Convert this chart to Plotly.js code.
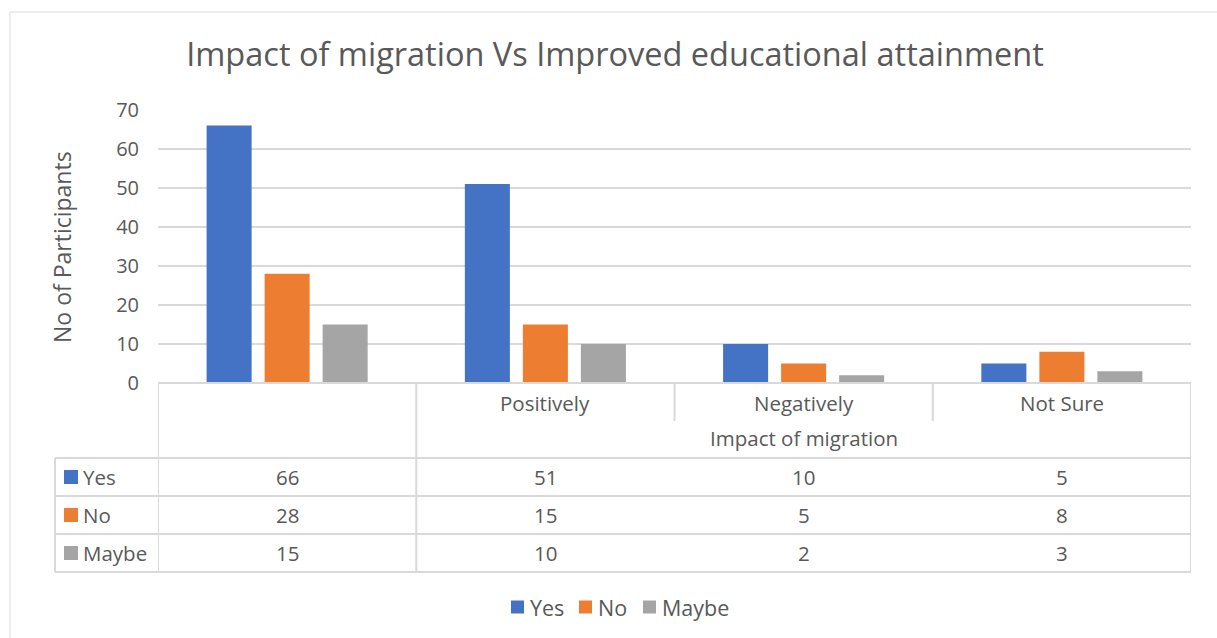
<!DOCTYPE html>
<html>
<head>
<meta charset="utf-8">
<script src="https://cdn.plot.ly/plotly-3.0.1.min.js"></script>
<style>html,body{margin:0;padding:0;background:#fff;}#chart{width:1217px;height:638px;}</style>
</head>
<body>
<div id="chart"></div>
<script>
// ---- data ----
const categories = ["", "Positively", "Negatively", "Not Sure"];
const seriesNames = ["Yes", "No", "Maybe"];
const yesValues = [66, 51, 10, 5];
const noValues = [28, 15, 5, 8];
const maybeValues = [15, 10, 2, 3];
const yTickValues = [0, 10, 20, 30, 40, 50, 60, 70];
const chartTitle = "Impact of migration Vs Improved educational attainment";
const xAxisTitle = "Impact of migration";
const yAxisTitle = "No of Participants";

// ---- styles ----
const colors = ["#4472C4", "#ED7D31", "#A5A5A5"];
const textColor = "#595959";
const lineColor = "#D9D9D9";
const FONT = "'Open Sans', 'Noto Sans', sans-serif";
const FS = 20.5;

const W = 1217, H = 638;
const L = 158, R = 1191, T = 110, B = 383;
const pw = R - L, ph = B - T;
const px = v => (v - L) / pw;          // pixel x -> paper
const py = v => (B - v) / ph;          // pixel y -> paper

const allSeries = [yesValues, noValues, maybeValues];
const xIdx = categories.map((c, i) => i);

const traces = allSeries.map((vals, s) => ({
  type: "bar",
  name: seriesNames[s],
  x: xIdx,
  y: vals,
  marker: {color: colors[s], line: {width: 0}},
  hoverinfo: "skip"
}));

const shapes = [];
const annotations = [];
const ln = {color: lineColor, width: 2};

// outer chart border
shapes.push({type: "rect", xref: "paper", yref: "paper", x0: px(10), x1: px(1240), y0: py(660), y1: py(12),
  line: {color: "#D9D9D9", width: 1}, fillcolor: "rgba(0,0,0,0)", layer: "below"});

// table horizontal lines
const rowLinesPx = [458, 496, 534, 572];
shapes.push({type: "line", xref: "paper", yref: "paper", x0: 0, x1: 1, y0: 0, y1: 0, line: ln});
rowLinesPx.forEach(p => shapes.push({type: "line", xref: "paper", yref: "paper", x0: px(55), x1: 1, y0: py(p), y1: py(p), line: ln}));
// table vertical lines (column boundaries in data coords)
const n = categories.length;
for (let b = 0; b <= n; b++) {
  const xb = b - 0.5;
  const full = (b === 0 || b === 1 || b === n);
  shapes.push({type: "line", xref: "x", yref: "paper", x0: xb, x1: xb, y0: full ? py(572) : py(421), y1: 0, line: ln});
}
// left column outer edge
shapes.push({type: "line", xref: "paper", yref: "paper", x0: px(55), x1: px(55), y0: py(572), y1: py(458), line: ln});

// category labels
categories.forEach((c, i) => {
  if (c) annotations.push({xref: "x", yref: "paper", x: i, y: py(403), text: c, showarrow: false,
    xanchor: "center", yanchor: "middle", font: {family: FONT, size: FS, color: textColor}});
});
// axis title in the merged header cell
annotations.push({xref: "x", yref: "paper", x: n / 2, y: py(438), text: xAxisTitle, showarrow: false,
  xanchor: "center", yanchor: "middle", font: {family: FONT, size: FS, color: textColor}});

// table values and row labels
const rowCentersPx = [477, 515, 553];
allSeries.forEach((vals, s) => {
  const yc = py(rowCentersPx[s]);
  vals.forEach((v, i) => annotations.push({xref: "x", yref: "paper", x: i, y: yc, text: String(v), showarrow: false,
    xanchor: "center", yanchor: "middle", font: {family: FONT, size: FS, color: textColor}}));
  shapes.push({type: "rect", xref: "paper", yref: "paper", x0: px(64), x1: px(78), y0: py(rowCentersPx[s] + 7), y1: py(rowCentersPx[s] - 7),
    fillcolor: colors[s], line: {width: 0}});
  annotations.push({xref: "paper", yref: "paper", x: px(81), y: yc, text: seriesNames[s], showarrow: false,
    xanchor: "left", yanchor: "middle", font: {family: FONT, size: FS, color: textColor}});
});

// bottom legend (drawn manually to match spacing)
const legendSquareX = [511, 579, 643];
seriesNames.forEach((nm, s) => {
  shapes.push({type: "rect", xref: "paper", yref: "paper", x0: px(legendSquareX[s]), x1: px(legendSquareX[s] + 13),
    y0: py(613.5), y1: py(600.5), fillcolor: colors[s], line: {width: 0}});
  annotations.push({xref: "paper", yref: "paper", x: px(legendSquareX[s] + 17), y: py(607), text: nm, showarrow: false,
    xanchor: "left", yanchor: "middle", font: {family: FONT, size: 21.5, color: textColor}});
});

// y axis title
annotations.push({xref: "paper", yref: "paper", x: px(62), y: py(247), text: yAxisTitle, showarrow: false, textangle: -90,
  xanchor: "center", yanchor: "middle", font: {family: FONT, size: 23, color: textColor}});

const layout = {
  width: W, height: H,
  paper_bgcolor: "#fff", plot_bgcolor: "#fff",
  margin: {l: L, r: W - R, t: T, b: H - B, pad: 0},
  title: {text: chartTitle, xref: "container", yref: "container", x: 615 / W, xanchor: "center", y: 1 - 55 / H, yanchor: "middle",
    font: {family: FONT, size: 32.5, color: textColor}},
  barmode: "group",
  bargap: 0.326,
  bargroupgap: 0.224,
  showlegend: false,
  xaxis: {range: [-0.5, n - 0.5], showticklabels: false, showgrid: false, zeroline: false, showline: false, fixedrange: true},
  yaxis: {range: [0, 70], tickvals: yTickValues, ticktext: yTickValues.map(String), showgrid: true, gridcolor: lineColor, gridwidth: 1.5,
    zeroline: false, showline: false, ticks: "", ticklabelstandoff: 18,
    tickfont: {family: FONT, size: 20, color: textColor}, fixedrange: true},
  shapes: shapes,
  annotations: annotations,
  font: {family: FONT, color: textColor}
};

Plotly.newPlot("chart", traces, layout, {displayModeBar: false, staticPlot: true});
</script>
</body>
</html>
